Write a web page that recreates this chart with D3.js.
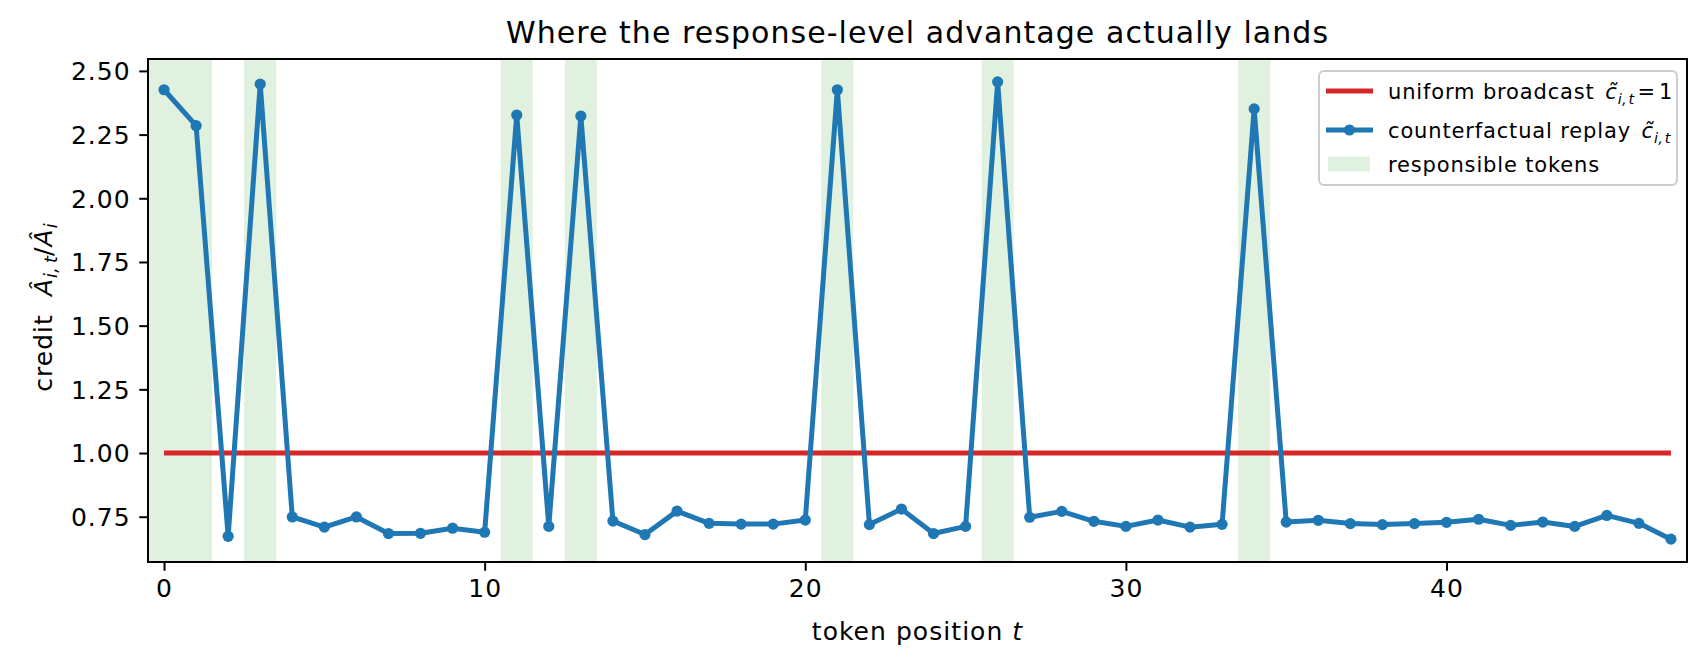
<!DOCTYPE html>
<html>
<head>
<meta charset="utf-8">
<script src="https://cdn.jsdelivr.net/npm/d3@7"></script>
<style>
  html, body { margin: 0; padding: 0; background: #fff; }
  svg text { font-family: "DejaVu Sans", sans-serif; fill: #000; white-space: pre; letter-spacing: 1.05px; }
  svg text.leg { letter-spacing: 0.85px; }
  svg tspan.sub { letter-spacing: 0.3px; }
</style>
</head>
<body>
<svg id="chart" width="1705" height="668"></svg>
<script>
// ---- data ----
const creditValues = [
  2.426, 2.285, 0.673, 2.448, 0.749, 0.709, 0.749, 0.684, 0.685, 0.705,
  0.689, 2.327, 0.712, 2.323, 0.733, 0.680, 0.772, 0.724, 0.721, 0.721,
  0.737, 2.426, 0.719, 0.780, 0.684, 0.712, 2.457, 0.748, 0.771, 0.732,
  0.712, 0.737, 0.709, 0.720, 2.351, 0.729, 0.736, 0.723, 0.719, 0.723,
  0.728, 0.740, 0.716, 0.729, 0.712, 0.755, 0.724, 0.662
];
const responsibleTokens = [0, 1, 3, 11, 13, 21, 26, 34];
const uniformValue = 1.0;
const xTicks = [0, 10, 20, 30, 40];
const yTicks = [0.75, 1.00, 1.25, 1.50, 1.75, 2.00, 2.25, 2.50];

// ---- layout ----
const svg = d3.select("#chart");
const L = 148, R = 1687, T = 59, B = 562;
const nTok = creditValues.length;
const positions = creditValues.map((_, i) => i);

const x = d3.scaleLinear().domain([-0.5, nTok - 0.5]).range([L, R]);
const allVals = creditValues.concat([uniformValue]);
const vMin = d3.min(allVals), vMax = d3.max(allVals);
const pad = 0.05 * (vMax - vMin);
const y = d3.scaleLinear().domain([vMin - pad, vMax + pad]).range([B, T]);

const blue = "#1f77b4", red = "#d62728", green = "#2ca02c";

// responsible spans
svg.append("g").selectAll("rect").data(responsibleTokens).join("rect")
  .attr("x", d => x(d - 0.5))
  .attr("width", d => x(d + 0.5) - x(d - 0.5))
  .attr("y", T).attr("height", B - T)
  .attr("fill", green).attr("fill-opacity", 0.15);

// uniform broadcast line
svg.append("path")
  .datum([0, nTok - 1])
  .attr("d", d3.line().x(d => x(d)).y(() => y(uniformValue)))
  .attr("stroke", red).attr("stroke-width", 5).attr("fill", "none");

// counterfactual replay line
const pts = positions.map(i => [i, creditValues[i]]);
svg.append("path").datum(pts)
  .attr("d", d3.line().x(d => x(d[0])).y(d => y(d[1])))
  .attr("stroke", blue).attr("stroke-width", 5).attr("fill", "none")
  .attr("stroke-linejoin", "round");
svg.append("g").selectAll("circle").data(pts).join("circle")
  .attr("cx", d => x(d[0])).attr("cy", d => y(d[1])).attr("r", 5.6)
  .attr("fill", blue);

// axes
const xAxis = d3.axisBottom(x).tickValues(xTicks).tickFormat(d3.format("d"))
  .tickSizeInner(8.75).tickSizeOuter(0).tickPadding(8.5);
const yAxis = d3.axisLeft(y).tickValues(yTicks).tickFormat(d3.format(".2f"))
  .tickSizeInner(8.75).tickSizeOuter(0).tickPadding(8.5);

const gx = svg.append("g").attr("transform", `translate(0,${B})`).call(xAxis);
const gy = svg.append("g").attr("transform", `translate(${L},0)`).call(yAxis);
[gx, gy].forEach(g => {
  g.select(".domain").remove();
  g.selectAll(".tick line").attr("stroke", "#000").attr("stroke-width", 2);
  g.selectAll(".tick text").attr("font-size", 25).attr("fill", "#000")
    .attr("font-family", "DejaVu Sans");
});
gy.selectAll(".tick text").attr("dy", "0.35em");

// frame
svg.append("rect").attr("x", L).attr("y", T).attr("width", R - L).attr("height", B - T)
  .attr("fill", "none").attr("stroke", "#000").attr("stroke-width", 2);

// title
svg.append("text").attr("x", (L + R) / 2).attr("y", 43)
  .attr("text-anchor", "middle").attr("font-size", 30)
  .text("Where the response-level advantage actually lands");

// x label
const xl = svg.append("text").attr("x", (L + R) / 2).attr("y", 640)
  .attr("text-anchor", "middle").attr("font-size", 25);
xl.append("tspan").text("token position ");
xl.append("tspan").attr("font-style", "italic").text("t");

// y label
const yl = svg.append("text")
  .attr("transform", `translate(52,${(T + B) / 2 - 3}) rotate(-90)`)
  .attr("text-anchor", "middle").attr("font-size", 25);
yl.append("tspan").text("credit  ");
yl.append("tspan").attr("font-style", "italic").text("\u00C2");
yl.append("tspan").attr("class", "sub").attr("font-style", "italic").attr("font-size", 17.5).attr("dy", 5).text("i,\u2009t");
yl.append("tspan").attr("dy", -5).text("/");
yl.append("tspan").attr("font-style", "italic").text("\u00C2");
yl.append("tspan").attr("class", "sub").attr("font-style", "italic").attr("font-size", 17.5).attr("dy", 5).text("i");

// legend
const lg = svg.append("g");
lg.append("rect").attr("x", 1319).attr("y", 71).attr("width", 358).attr("height", 114)
  .attr("rx", 5).attr("fill", "#fff").attr("fill-opacity", 0.8)
  .attr("stroke", "#cccccc").attr("stroke-width", 2);
const hx0 = 1326, hx1 = 1373, tx = 1388;
const rows = [91, 130, 164];
lg.append("line").attr("x1", hx0).attr("x2", hx1).attr("y1", rows[0]).attr("y2", rows[0])
  .attr("stroke", red).attr("stroke-width", 5);
lg.append("line").attr("x1", hx0).attr("x2", hx1).attr("y1", rows[1]).attr("y2", rows[1])
  .attr("stroke", blue).attr("stroke-width", 5);
lg.append("circle").attr("cx", (hx0 + hx1) / 2).attr("cy", rows[1]).attr("r", 5.6).attr("fill", blue);
lg.append("rect").attr("x", 1328).attr("y", rows[2] - 7.5).attr("width", 42).attr("height", 15)
  .attr("fill", green).attr("fill-opacity", 0.15);

const fs = 21;
const t1 = lg.append("text").attr("class", "leg").attr("x", tx).attr("y", rows[0] + 7.5).attr("font-size", fs);
t1.append("tspan").text("uniform broadcast ");
t1.append("tspan").attr("font-style", "italic").attr("dx", 3).text("c\u0303");
t1.append("tspan").attr("class", "sub").attr("font-style", "italic").attr("font-size", 14.5).attr("dy", 5).text("i,\u200At");
t1.append("tspan").attr("dy", -5).attr("dx", 3).text("=");
t1.append("tspan").attr("dx", 3).text("1");

const t2 = lg.append("text").attr("class", "leg").attr("x", tx).attr("y", rows[1] + 7.5).attr("font-size", fs);
t2.append("tspan").text("counterfactual replay ");
t2.append("tspan").attr("font-style", "italic").attr("dx", 3).text("c\u0303");
t2.append("tspan").attr("class", "sub").attr("font-style", "italic").attr("font-size", 14.5).attr("dy", 5).text("i,\u200At");

lg.append("text").attr("class", "leg").attr("x", tx).attr("y", rows[2] + 7.5).attr("font-size", fs)
  .text("responsible tokens");
</script>
</body>
</html>
